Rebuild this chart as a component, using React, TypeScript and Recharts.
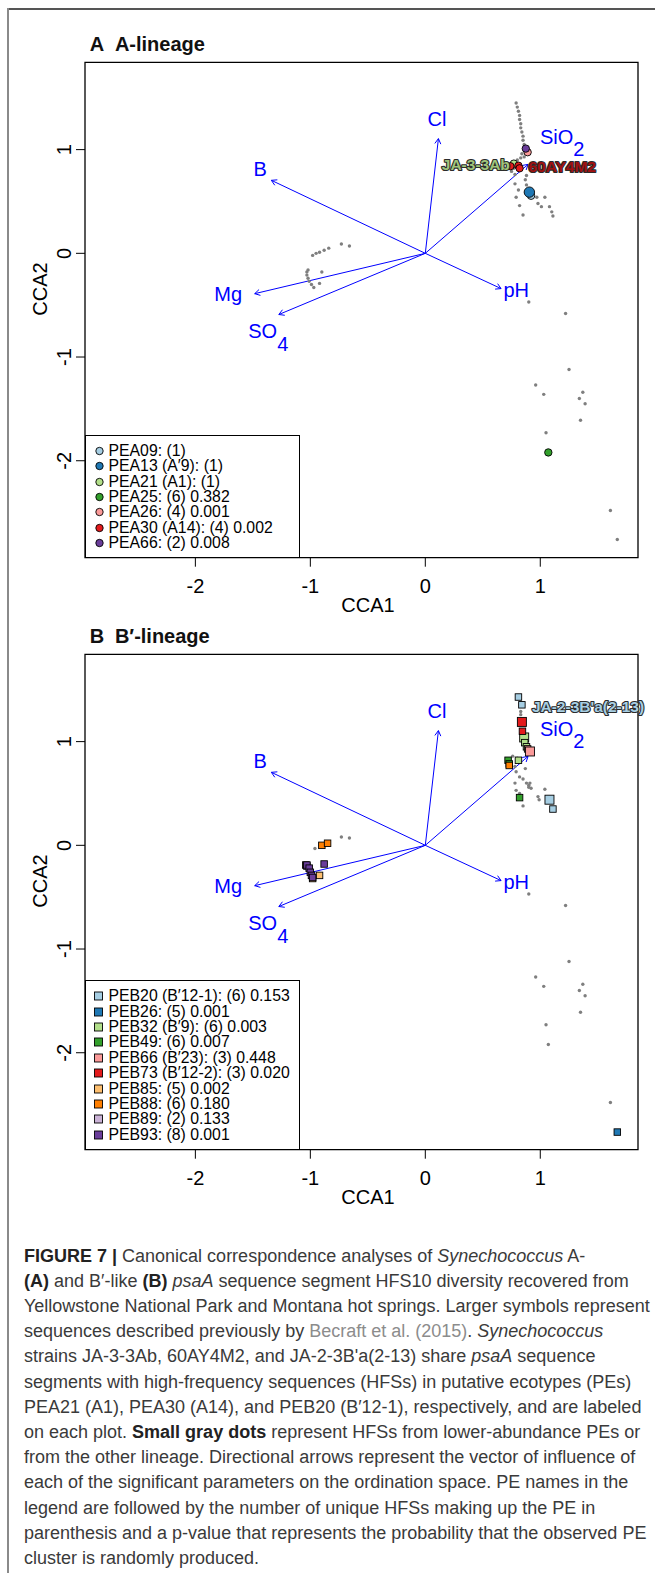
import React from 'react';
import { ScatterChart, Scatter, XAxis, YAxis, ReferenceLine, ReferenceArea } from 'recharts';

const FONT = '"Liberation Sans", Arial, Helvetica, sans-serif';

// both panels share the same ordination space
const xDomain: [number, number] = [-2.96, 1.85];
const yDomain: [number, number] = [-2.935, 1.842];
const axisTicks = [-2, -1, 0, 1];

// biplot arrows (environmental parameters)
const envNames = ['Cl', 'SiO', 'B', 'Mg', 'SO', 'pH'];
const envSubscripts = ['', '2', '', '', '4', ''];
const envTipX = [0.114, 0.894, -1.339, -1.484, -1.274, 0.659];
const envTipY = [1.106, 0.858, 0.704, -0.389, -0.59, -0.34];
const envLabelX = [0.102, 1.191, -1.437, -1.715, -1.366, 0.791];
const envLabelY = [1.299, 1.125, 0.81, -0.388, -0.749, -0.35];

// small gray dots
const grayShared = [
  [0.9, -0.47], [1.22, -0.58], [1.25, -1.12], [0.96, -1.27], [1.03, -1.36], [1.37, -1.34],
  [1.34, -1.4], [1.39, -1.45], [1.35, -1.61], [1.05, -1.73], [1.61, -2.48],
];
const grayA = [
  [0.79, 1.45], [0.8, 1.41], [0.81, 1.37], [0.82, 1.33], [0.82, 1.29], [0.83, 1.25], [0.83, 1.21],
  [0.84, 1.17], [0.85, 1.13], [0.85, 1.09], [0.86, 1.05], [0.84, 0.96], [0.83, 0.92], [0.86, 0.93],
  [0.8, 0.9], [0.75, 0.79], [0.78, 0.76], [0.88, 0.75], [0.87, 0.71], [0.78, 0.67], [0.81, 0.61],
  [0.79, 0.54], [0.82, 0.46], [0.85, 0.37], [0.97, 0.54], [0.98, 0.48], [1.01, 0.45], [1.04, 0.54],
  [1.08, 0.45], [1.11, 0.36], [1.1, 0.4], [0.77, 0.82], [0.88, 0.66],
  [1.67, -2.76],
  [-0.98, -0.02], [-0.95, 0.0], [-0.92, 0.01], [-0.88, 0.03], [-0.84, 0.05], [-0.73, 0.09],
  [-0.66, 0.07], [-1.03, -0.18], [-1.03, -0.21], [-1.02, -0.24], [-1.01, -0.27], [-0.99, -0.3],
  [-0.97, -0.33], [-0.92, -0.29], [-0.9, -0.18], [-1.02, -0.16],
];
const grayB = [
  [0.83, 1.29], [0.83, 1.26], [0.76, 0.86], [0.78, 0.76], [0.79, 0.71], [0.82, 0.66], [0.85, 0.64],
  [0.88, 0.6], [0.9, 0.56], [0.92, 0.55], [0.79, 0.53], [0.82, 0.5], [1.04, 0.54], [0.98, 0.47],
  [0.99, 0.44], [0.85, 0.38], [0.78, 0.6], [0.87, 0.74], [0.8, 0.84], [0.9, 0.58], [0.91, 0.6],
  [1.07, -1.92],
  [-0.96, -0.03], [-0.73, 0.08], [-0.66, 0.07],
];

// A-lineage putative ecotypes: [CCA1, CCA2, described previously (1)]
const peaNames = ['PEA09: (1)', 'PEA13 (A\u20329): (1)', 'PEA21 (A1): (1)', 'PEA25: (6) 0.382',
  'PEA26: (4) 0.001', 'PEA30 (A14): (4) 0.002', 'PEA66: (2) 0.008'];
const peaColors = ['#a6cee3', '#1f78b4', '#b2df8a', '#33a02c', '#fb9a99', '#e31a1c', '#6a3d9a'];
const pea09 = [[0.92, 0.555, 0]];
const pea13 = [[0.905, 0.59, 1]];
const pea21 = [[0.77, 0.865, 0]];
const pea25 = [[1.07, -1.92, 0]];
const pea26 = [[0.89, 0.975, 0]];
const pea30 = [[0.74, 0.84, 0], [0.81, 0.845, 0], [0.82, 0.82, 0]];
const pea66 = [[0.874, 1.01, 0]];

// B'-lineage putative ecotypes
const pebNames = ['PEB20 (B\u203212-1): (6) 0.153', 'PEB26: (5) 0.001', 'PEB32 (B\u20329): (6) 0.003',
  'PEB49: (6) 0.007', 'PEB66 (B\u203223): (3) 0.448', 'PEB73 (B\u203212-2): (3) 0.020',
  'PEB85: (5) 0.002', 'PEB88: (6) 0.180', 'PEB89: (2) 0.133', 'PEB93: (8) 0.001'];
const pebColors = ['#a6cee3', '#1f78b4', '#b2df8a', '#33a02c', '#fb9a99', '#e31a1c', '#fdbf6f',
  '#ff7f00', '#cab2d6', '#6a3d9a'];
const peb20 = [[0.81, 1.43, 0], [0.84, 1.355, 0], [1.08, 0.44, 1], [1.11, 0.35, 0]];
const peb26 = [[1.67, -2.765, 0]];
const peb32 = [[0.86, 1.04, 1], [0.865, 0.99, 0], [0.88, 0.95, 0], [0.81, 0.82, 0]];
const peb49 = [[0.72, 0.82, 0], [0.73, 0.785, 0], [0.82, 0.46, 0]];
const peb66 = [[0.89, 0.93, 0], [0.91, 0.905, 1]];
const peb73 = [[0.84, 1.19, 1], [0.845, 1.1, 0]];
const peb85 = [[-1.04, -0.19, 0], [-0.92, -0.29, 0], [-0.98, -0.32, 0]];
const peb88 = [[-0.9, 0.0, 0], [-0.85, 0.02, 0], [0.73, 0.77, 0]];
const peb89 = [[-1.03, -0.2, 0]];
const peb93 = [[-1.03, -0.19, 0], [-1.01, -0.22, 0], [-1.0, -0.26, 0], [-0.99, -0.29, 0],
  [-0.98, -0.31, 0], [-0.88, -0.18, 0]];

// reference strains labelled on the plots
const strainsA = [
  { x: 0.77, y: 0.865, name: 'JA-3-3Ab', color: '#9fc47a', side: 'left' },
  { x: 0.81, y: 0.845, name: '60AY4M2', color: '#a01010', side: 'right' },
];
const strainsB = [
  { x: 0.84, y: 1.355, name: "JA-2-3B'a(2-13)", color: '#a6cee3', side: 'right' },
];

const toPts = (arr: number[][]) => arr.map(([x, y, prior]) => ({ x, y, prior: prior === 1 }));

const envLabels = envNames.map((name, i) => ({
  x: envLabelX[i], y: envLabelY[i], name, sub: envSubscripts[i],
}));

const ArrowLine = (p: any) => {
  const { x1, y1, x2, y2 } = p;
  const a = Math.atan2(y2 - y1, x2 - x1);
  const L = 6;
  const t = Math.PI / 6;
  const hx1 = x2 - L * Math.cos(a - t);
  const hy1 = y2 - L * Math.sin(a - t);
  const hx2 = x2 - L * Math.cos(a + t);
  const hy2 = y2 - L * Math.sin(a + t);
  return (
    <g>
      <line x1={x1} y1={y1} x2={x2} y2={y2} stroke="#0000ff" strokeWidth={1} />
      <polyline points={`${hx1},${hy1} ${x2},${y2} ${hx2},${hy2}`} fill="none" stroke="#0000ff" strokeWidth={1} />
    </g>
  );
};

const markerShape = (marker: string, color: string) => (p: any) => {
  const big = p.payload && p.payload.prior;
  if (marker === 'circle') {
    return <circle cx={p.cx} cy={p.cy} r={big ? 5.2 : 3.7} fill={color} stroke="#000" strokeWidth={0.9} />;
  }
  const s = big ? 9 : 6.5;
  return <rect x={p.cx - s / 2} y={p.cy - s / 2} width={s} height={s} fill={color} stroke="#000" strokeWidth={0.9} />;
};

const grayShape = (p: any) => <circle cx={p.cx} cy={p.cy} r={1.7} fill="#7f7f7f" />;

const envLabelShape = (p: any) => (
  <text x={p.cx} y={p.cy} dy={7} textAnchor="middle" fontSize={20} fontFamily={FONT} fill="#0000ff">
    {p.payload.name}
    {p.payload.sub ? <tspan dy={12.5}>{p.payload.sub}</tspan> : null}
  </text>
);

const strainShape = (p: any) => {
  const left = p.payload.side === 'left';
  return (
    <text
      x={p.cx + (left ? -4 : 10)}
      y={p.cy}
      dy={6.8}
      textAnchor={left ? 'end' : 'start'}
      fontSize={15.5}
      fontWeight="bold"
      fontFamily={FONT}
      fill={p.payload.color}
      stroke="#2b2b2b"
      strokeWidth={2.2}
      paintOrder="stroke"
      strokeLinejoin="round"
    >
      {p.payload.name}
    </text>
  );
};

const XTick = (p: any) => (
  <text x={p.x} y={p.y} dy={26} textAnchor="middle" fontSize={20} fontFamily={FONT} fill="#000">
    {p.payload.value}
  </text>
);

const YTick = (p: any) => (
  <text transform={`translate(${p.x - 5},${p.y}) rotate(-90)`} textAnchor="middle" fontSize={20} fontFamily={FONT} fill="#000">
    {p.payload.value}
  </text>
);

const XTitle = (p: any) => {
  const vb = p.viewBox || { x: 85, y: 557.7, width: 553 };
  return (
    <text x={vb.x + vb.width / 2 + 6.5} y={vb.y + 54} textAnchor="middle" fontSize={20} fontFamily={FONT} fill="#000">
      CCA1
    </text>
  );
};

const YTitle = (p: any) => {
  const vb = p.viewBox || { x: 0, y: 62.3, width: 85, height: 495.4 };
  return (
    <text transform={`translate(47,${vb.y + vb.height / 2 - 21}) rotate(-90)`} textAnchor="middle" fontSize={20} fontFamily={FONT} fill="#000">
      CCA2
    </text>
  );
};

type Series = { name: string; color: string; points: number[][] };

const CHART_H = 625;
const PLOT_BOTTOM = 557.7;

const Panel = ({ top, tag, title, gray, series, marker, strains, legendTop }: {
  top: number; tag: string; title: string; gray: number[][]; series: Series[];
  marker: string; strains: any[]; legendTop: number;
}) => (
  <div style={{ position: 'absolute', left: 0, top, width: 655, height: CHART_H }}>
    <div style={{ position: 'absolute', left: 89.8, top: 32, fontSize: 20, lineHeight: '24px', fontWeight: 'bold', fontFamily: FONT, color: '#111', whiteSpace: 'nowrap' }}>
      {tag}
    </div>
    <div style={{ position: 'absolute', left: 114.9, top: 32, fontSize: 20, lineHeight: '24px', fontWeight: 'bold', fontFamily: FONT, color: '#111', whiteSpace: 'nowrap' }}>
      {title}
    </div>
    <ScatterChart width={655} height={CHART_H} margin={{ top: 62.3, right: 17, bottom: 0, left: 0 }}>
      <XAxis
        type="number"
        dataKey="x"
        domain={xDomain}
        ticks={axisTicks}
        interval={0}
        height={CHART_H - PLOT_BOTTOM}
        tickSize={9}
        tickMargin={0}
        axisLine={false}
        tickLine={{ stroke: '#000', strokeWidth: 1 }}
        tick={XTick}
        label={XTitle}
      />
      <YAxis
        type="number"
        dataKey="y"
        domain={yDomain}
        ticks={axisTicks}
        interval={0}
        width={85}
        tickSize={9}
        tickMargin={0}
        axisLine={false}
        tickLine={{ stroke: '#000', strokeWidth: 1 }}
        tick={YTick}
        label={YTitle}
      />
      <ReferenceArea
        x1={xDomain[0]}
        x2={xDomain[1]}
        y1={yDomain[0]}
        y2={yDomain[1]}
        fill="none"
        stroke="#000"
        strokeWidth={1.3}
        ifOverflow="visible"
      />
      <Scatter data={toPts(gray)} shape={grayShape} isAnimationActive={false} />
      {envNames.map((n, i) => (
        <ReferenceLine
          key={n + i}
          segment={[{ x: 0, y: 0 }, { x: envTipX[i], y: envTipY[i] }]}
          shape={ArrowLine}
          ifOverflow="visible"
        />
      ))}
      {series.map((s) => (
        <Scatter key={s.name} data={toPts(s.points)} shape={markerShape(marker, s.color)} isAnimationActive={false} />
      ))}
      <Scatter data={envLabels} shape={envLabelShape} isAnimationActive={false} />
      <Scatter data={strains} shape={strainShape} isAnimationActive={false} />
    </ScatterChart>
    <div
      style={{
        position: 'absolute', left: 85, top: legendTop, width: 215.3, height: PLOT_BOTTOM - legendTop,
        boxSizing: 'border-box', border: '1.3px solid #000', background: '#fff', fontFamily: FONT,
      }}
    >
      {series.map((s, i) => (
        <div key={s.name} style={{ position: 'absolute', left: 0, top: 15.2 + i * 15.4 - 9, height: 18, width: 214, whiteSpace: 'nowrap' }}>
          <svg width={20} height={18} style={{ position: 'absolute', left: 6, top: 0 }}>
            {marker === 'circle'
              ? <circle cx={7.5} cy={9} r={3.7} fill={s.color} stroke="#000" strokeWidth={0.9} />
              : <rect x={2.5} y={5} width={8} height={8} fill={s.color} stroke="#000" strokeWidth={0.9} />}
          </svg>
          <span style={{ position: 'absolute', left: 22.5, top: 0, fontSize: 15.8, lineHeight: '18px', color: '#000' }}>
            {s.name}
          </span>
        </div>
      ))}
    </div>
  </div>
);

const seriesA: Series[] = [pea09, pea13, pea21, pea25, pea26, pea30, pea66].map((points, i) => ({
  name: peaNames[i], color: peaColors[i], points,
}));
const seriesB: Series[] = [peb20, peb26, peb32, peb49, peb66, peb73, peb85, peb88, peb89, peb93].map((points, i) => ({
  name: pebNames[i], color: pebColors[i], points,
}));

const gray = { color: '#8c8c8c' };

const captionLines: React.ReactNode[] = [
  <><b style={{ color: '#222' }}>FIGURE 7 |</b> Canonical correspondence analyses of <i>Synechococcus</i> A-</>,
  <><b style={{ color: '#222' }}>(A)</b> and B{'\u2032'}-like <b style={{ color: '#222' }}>(B)</b> <i>psaA</i> sequence segment HFS10 diversity recovered from</>,
  <>Yellowstone National Park and Montana hot springs. Larger symbols represent</>,
  <>sequences described previously by <span style={gray}>Becraft et al. (2015)</span>. <i>Synechococcus</i></>,
  <>strains JA-3-3Ab, 60AY4M2, and JA-2-3B'a(2-13) share <i>psaA</i> sequence</>,
  <>segments with high-frequency sequences (HFSs) in putative ecotypes (PEs)</>,
  <>PEA21 (A1), PEA30 (A14), and PEB20 (B{'\u2032'}12-1), respectively, and are labeled</>,
  <>on each plot. <b style={{ color: '#222' }}>Small gray dots</b> represent HFSs from lower-abundance PEs or</>,
  <>from the other lineage. Directional arrows represent the vector of influence of</>,
  <>each of the significant parameters on the ordination space. PE names in the</>,
  <>legend are followed by the number of unique HFSs making up the PE in</>,
  <>parenthesis and a p-value that represents the probability that the observed PE</>,
  <>cluster is randomly produced.</>,
];

export default function App() {
  return (
    <div style={{ position: 'absolute', left: 0, top: 0, width: 655, height: 1573, background: '#fff', overflow: 'hidden', fontFamily: FONT }}>
      <div style={{ position: 'absolute', left: 7, top: 7.5, width: 648, height: 0, borderTop: '2px solid #555' }} />
      <div style={{ position: 'absolute', left: 6.5, top: 8, width: 0, height: 1565, borderLeft: '2px solid #8a8a8a' }} />
      <Panel top={0} tag="A" title="A-lineage" gray={[...grayShared, ...grayA]} series={seriesA} marker="circle" strains={strainsA} legendTop={434.7} />
      <Panel top={592} tag="B" title={'B\u2032-lineage'} gray={[...grayShared, ...grayB]} series={seriesB} marker="square" strains={strainsB} legendTop={388} />
      <div style={{ position: 'absolute', left: 24, top: 1243.5, fontSize: 18, lineHeight: '25.2px', color: '#3a3a3a', whiteSpace: 'nowrap' }}>
        {captionLines.map((l, i) => <div key={i}>{l}</div>)}
      </div>
    </div>
  );
}
